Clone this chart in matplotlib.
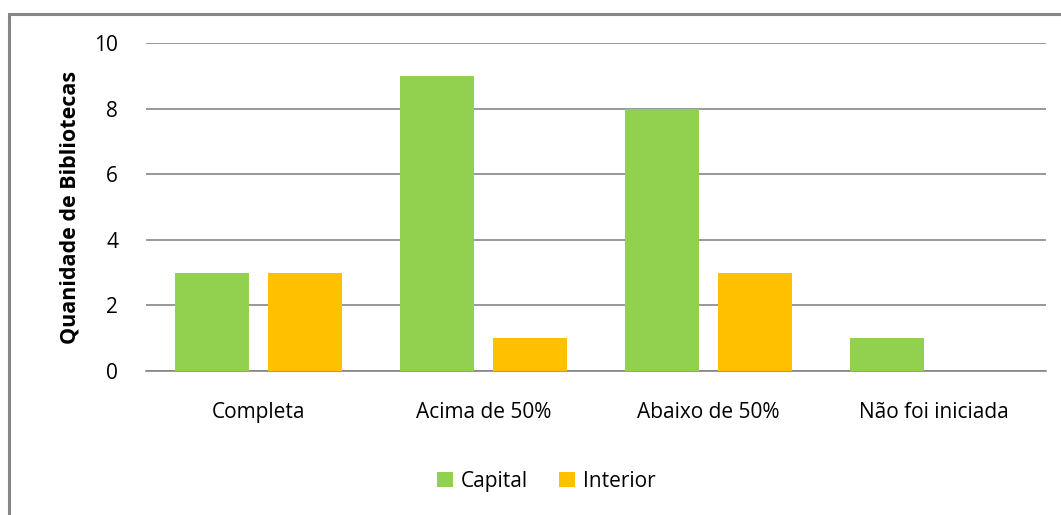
import matplotlib
matplotlib.use("Agg")
import matplotlib.pyplot as plt
import numpy as np
from matplotlib.patches import Rectangle

categories = ["Completa", "Acima de 50%", "Abaixo de 50%", "Não foi iniciada"]
capital = [3, 9, 8, 1]
interior = [3, 1, 3, 0]

plt.rcParams['font.family'] = ['Open Sans', 'DejaVu Sans']

fig = plt.figure(figsize=(10.61, 5.15), dpi=100)
ax = fig.add_axes([0.1376, 0.2796, 0.8483, 0.6369])

x = np.arange(len(categories))
w = 0.33
ax.bar(x - 0.208, capital, w, color="#92D050", label="Capital", zorder=3)
ax.bar(x + 0.208, interior, w, color="#FFC000", label="Interior", zorder=3)

ax.set_xlim(-0.5, 3.5)
ax.set_ylim(0, 10)
ax.set_yticks(range(0, 11, 2))
ax.yaxis.grid(True, color="#868686", linewidth=1.2, zorder=0)
ax.set_xticks(x)
ax.set_xticklabels(categories)
ax.tick_params(axis="both", length=0, labelsize=15, colors="#000000")
ax.tick_params(axis="x", pad=22)
ax.tick_params(axis="y", pad=20)
for s in ["top", "right", "left"]:
    ax.spines[s].set_visible(False)
ax.spines["bottom"].set_color("#868686")
ax.spines["bottom"].set_linewidth(1.2)
ax.set_ylabel("Quanidade de Bibliotecas", fontsize=15.5, fontweight="bold", labelpad=10)

fig.legend(loc="center", bbox_to_anchor=(0.515, 0.066), ncol=2, frameon=False,
           fontsize=15, handlelength=0.75, handleheight=0.75, columnspacing=1.5,
           handletextpad=0.4)

fig.patches.append(Rectangle((9 / 1061, -0.1), 1.2, 1 - 14 / 515 + 0.1, transform=fig.transFigure,
                             fill=False, edgecolor="#868686", linewidth=2.2))

fig.savefig("out.png", dpi=100)
